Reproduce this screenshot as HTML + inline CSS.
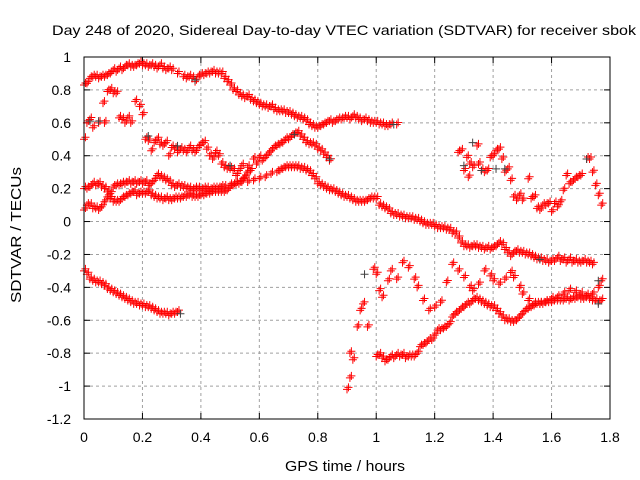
<!DOCTYPE html>
<html><head><meta charset="utf-8"><style>
body{margin:0;background:#fff}
svg{display:block;font-family:"Liberation Sans",sans-serif}
</style></head><body>
<svg id="c" width="640" height="480">
<text x="52" y="35" font-size="14" textLength="584" lengthAdjust="spacingAndGlyphs">Day 248 of 2020, Sidereal Day-to-day VTEC variation (SDTVAR) for receiver sbok</text>
<text x="285" y="471" font-size="15" textLength="120" lengthAdjust="spacingAndGlyphs">GPS time / hours</text>
<text transform="translate(21,303) rotate(-90)" font-size="15" textLength="136" lengthAdjust="spacingAndGlyphs">SDTVAR / TECUs</text>
<g id="grid"></g><g id="marks"></g>
<rect x="84" y="57" width="526" height="362" fill="none" stroke="#000"/>
</svg>
<script>
const xTicks=[0,0.2,0.4,0.6,0.8,1,1.2,1.4,1.6,1.8];
const xTickLabels=["0","0.2","0.4","0.6","0.8","1","1.2","1.4","1.6","1.8"];
const yTicks=[1,0.8,0.6,0.4,0.2,0,-0.2,-0.4,-0.6,-0.8,-1,-1.2];
const yTickLabels=["1","0.8","0.6","0.4","0.2","0","-0.2","-0.4","-0.6","-0.8","-1","-1.2"];
const aX=[0,0.01,0.02,0.03,0.04,0.05,0.06,0.07,0.08,0.09,0.1,0.11,0.12,0.13,0.14,0.15,0.16,0.17,0.18,0.19,0.2,0.21,0.22,0.23,0.24,0.25,0.26,0.27,0.28,0.29,0.3,0.32,0.34,0.35,0.36,0.37,0.38,0.39,0.4,0.41,0.42,0.43,0.44,0.45,0.46,0.47,0.48,0.49,0.5,0.51,0.52,0.53,0.54,0.55,0.56,0.57,0.58,0.59,0.6,0.61,0.62,0.63,0.64,0.65,0.66,0.67,0.68,0.69,0.7,0.71,0.72,0.73,0.74,0.75,0.76,0.77,0.78,0.79,0.8,0.81,0.82,0.83,0.84,0.85,0.86,0.87,0.88,0.89,0.9,0.91,0.92,0.93,0.94,0.95,0.96,0.97,0.98,0.99,1,1.01,1.02,1.03,1.04,1.05,1.07];
const aY=[0.83,0.84,0.87,0.88,0.88,0.87,0.88,0.88,0.89,0.9,0.92,0.91,0.93,0.92,0.94,0.95,0.94,0.94,0.95,0.96,0.95,0.95,0.94,0.95,0.94,0.93,0.95,0.93,0.92,0.93,0.92,0.9,0.88,0.87,0.88,0.87,0.85,0.88,0.89,0.89,0.9,0.9,0.91,0.9,0.9,0.9,0.87,0.85,0.83,0.8,0.79,0.77,0.76,0.75,0.76,0.74,0.73,0.72,0.71,0.7,0.7,0.69,0.7,0.68,0.67,0.67,0.67,0.66,0.66,0.65,0.64,0.63,0.63,0.62,0.61,0.59,0.58,0.57,0.57,0.58,0.59,0.6,0.61,0.6,0.61,0.62,0.62,0.63,0.63,0.62,0.64,0.63,0.62,0.61,0.62,0.61,0.6,0.6,0.6,0.59,0.59,0.58,0.58,0.59,0.59];
const bX=[0,0.01,0.02,0.03,0.05,0.065,0.07,0.08,0.09,0.1,0.11,0.12,0.13,0.14,0.15,0.16,0.175,0.19,0.2,0.21,0.22,0.23,0.24,0.25,0.26,0.27,0.28,0.29,0.3,0.31,0.32,0.33,0.34,0.35,0.36,0.37,0.38,0.39,0.4,0.41,0.42,0.43,0.44,0.45,0.46,0.47,0.48,0.49,0.5,0.51,0.52,0.53,0.54,0.55,0.56,0.57,0.58,0.59,0.6,0.61,0.62,0.63,0.64,0.65,0.66,0.67,0.68,0.69,0.7,0.71,0.72,0.73,0.74,0.75,0.76,0.77,0.78,0.79,0.8,0.81,0.82,0.83,0.84];
const bY=[0.5,0.6,0.62,0.57,0.6,0.72,0.6,0.79,0.8,0.78,0.78,0.63,0.62,0.6,0.63,0.6,0.73,0.7,0.65,0.5,0.49,0.43,0.48,0.5,0.47,0.46,0.48,0.4,0.45,0.44,0.42,0.44,0.43,0.42,0.45,0.43,0.42,0.45,0.47,0.48,0.44,0.4,0.38,0.42,0.4,0.35,0.33,0.32,0.32,0.31,0.28,0.31,0.34,0.27,0.33,0.31,0.38,0.35,0.39,0.37,0.39,0.41,0.43,0.45,0.46,0.47,0.48,0.5,0.5,0.52,0.53,0.54,0.52,0.5,0.48,0.47,0.47,0.46,0.44,0.43,0.41,0.39,0.37];
const cX=[0,0.01,0.02,0.03,0.04,0.05,0.06,0.07,0.08,0.09,0.1,0.11,0.12,0.13,0.14,0.15,0.16,0.17,0.18,0.19,0.2,0.21,0.22,0.23,0.24,0.25,0.26,0.27,0.28,0.29,0.3,0.31,0.32,0.33,0.34,0.35,0.36,0.37,0.38,0.39,0.4,0.41,0.42,0.43,0.44,0.45,0.46,0.47,0.48,0.5,0.52,0.54,0.56,0.58,0.6,0.62,0.64,0.66,0.67,0.68,0.69,0.7,0.71,0.72,0.73,0.74,0.75,0.76,0.77,0.78,0.79,0.8,0.81,0.82,0.83,0.84,0.85,0.86,0.87,0.88,0.89,0.9,0.91,0.92,0.93,0.94,0.95,0.96,0.97,0.98,0.99,1,1.01,1.02,1.03,1.04,1.05,1.06,1.07,1.08,1.09,1.1,1.11,1.12,1.13,1.14,1.15,1.16,1.17,1.18,1.19,1.2,1.21,1.22,1.23,1.24,1.25,1.26,1.27,1.28,1.29,1.3,1.31,1.32,1.33,1.34,1.35,1.36,1.37,1.38,1.39,1.4,1.41,1.42,1.43,1.44,1.45,1.46,1.47,1.48,1.49,1.5,1.51,1.52,1.53,1.54,1.55,1.56,1.57,1.58,1.59,1.6,1.61,1.62,1.63,1.64,1.65,1.66,1.67,1.68,1.69,1.7,1.71,1.72,1.73,1.74,1.75];
const cY=[0.2,0.2,0.21,0.23,0.22,0.23,0.21,0.2,0.18,0.17,0.21,0.22,0.22,0.23,0.23,0.24,0.23,0.24,0.23,0.24,0.23,0.24,0.22,0.23,0.25,0.28,0.27,0.26,0.25,0.24,0.22,0.21,0.22,0.21,0.21,0.2,0.2,0.19,0.2,0.2,0.19,0.2,0.2,0.19,0.2,0.2,0.2,0.21,0.21,0.22,0.23,0.24,0.24,0.25,0.26,0.27,0.29,0.3,0.31,0.32,0.33,0.33,0.33,0.33,0.33,0.32,0.32,0.31,0.3,0.28,0.26,0.23,0.22,0.21,0.2,0.19,0.19,0.18,0.17,0.16,0.15,0.15,0.14,0.13,0.12,0.12,0.12,0.12,0.13,0.14,0.14,0.14,0.1,0.09,0.08,0.07,0.05,0.04,0.04,0.03,0.03,0.02,0.02,0.02,0.01,0.01,0.0,-0.01,-0.02,-0.02,-0.02,-0.03,-0.04,-0.04,-0.04,-0.05,-0.05,-0.07,-0.07,-0.1,-0.13,-0.15,-0.15,-0.16,-0.15,-0.15,-0.16,-0.16,-0.17,-0.16,-0.17,-0.16,-0.15,-0.13,-0.14,-0.17,-0.19,-0.21,-0.19,-0.18,-0.19,-0.19,-0.2,-0.2,-0.21,-0.22,-0.23,-0.23,-0.24,-0.24,-0.25,-0.24,-0.24,-0.22,-0.24,-0.23,-0.25,-0.23,-0.25,-0.24,-0.25,-0.25,-0.24,-0.25,-0.25,-0.26];
const dX=[0,0.01,0.02,0.03,0.04,0.05,0.06,0.07,0.08,0.09,0.1,0.11,0.12,0.13,0.14,0.15,0.16,0.17,0.18,0.19,0.2,0.21,0.22,0.23,0.24,0.25,0.26,0.27,0.28,0.29,0.3,0.31,0.32,0.33,0.34,0.35,0.36,0.37,0.38,0.39,0.4,0.41,0.42,0.43,0.44,0.45,0.46,0.47,0.48,0.49,0.5,0.51,0.52,0.53,0.54,0.55,0.56,0.57];
const dY=[0.07,0.1,0.1,0.08,0.08,0.07,0.09,0.12,0.15,0.14,0.12,0.12,0.12,0.14,0.15,0.16,0.17,0.18,0.16,0.17,0.17,0.17,0.18,0.16,0.15,0.14,0.14,0.13,0.14,0.13,0.13,0.14,0.14,0.14,0.15,0.15,0.16,0.15,0.15,0.15,0.16,0.16,0.17,0.17,0.18,0.18,0.18,0.18,0.18,0.19,0.21,0.22,0.23,0.23,0.25,0.27,0.3,0.31];
const eX=[0,0.01,0.02,0.03,0.04,0.05,0.06,0.07,0.08,0.09,0.1,0.11,0.12,0.13,0.14,0.15,0.16,0.17,0.18,0.19,0.2,0.21,0.22,0.23,0.24,0.25,0.26,0.27,0.28,0.29,0.3,0.31,0.32];
const eY=[-0.3,-0.32,-0.35,-0.36,-0.37,-0.37,-0.38,-0.39,-0.41,-0.42,-0.43,-0.44,-0.45,-0.46,-0.47,-0.48,-0.49,-0.5,-0.5,-0.51,-0.51,-0.52,-0.52,-0.53,-0.54,-0.55,-0.56,-0.56,-0.56,-0.57,-0.56,-0.56,-0.55];
const fX=[0.9,0.91,0.91,0.92,0.935,0.945,0.955,0.97,0.99,1.0,1.01,1.02,1.04,1.05,1.07,1.09,1.11,1.13,1.14,1.16,1.18,1.2,1.22,1.24,1.26,1.28,1.3,1.32,1.33,1.35,1.37,1.39,1.4,1.42,1.44,1.46,1.47,1.49,1.5,1.52,1.54,1.56,1.58,1.6,1.62,1.64,1.66,1.68,1.7,1.72,1.74,1.76,1.77];
const fY=[-1.02,-0.95,-0.8,-0.84,-0.64,-0.54,-0.5,-0.64,-0.29,-0.32,-0.42,-0.46,-0.36,-0.3,-0.35,-0.25,-0.28,-0.35,-0.4,-0.48,-0.54,-0.52,-0.49,-0.37,-0.26,-0.3,-0.34,-0.4,-0.42,-0.38,-0.3,-0.33,-0.36,-0.38,-0.35,-0.31,-0.34,-0.4,-0.44,-0.48,-0.5,-0.5,-0.49,-0.47,-0.46,-0.44,-0.42,-0.43,-0.44,-0.45,-0.44,-0.4,-0.36];
const gX=[1.0,1.01,1.02,1.03,1.04,1.05,1.06,1.07,1.08,1.09,1.1,1.11,1.12,1.13,1.14,1.15,1.16,1.17,1.18,1.19,1.2,1.21,1.22,1.23,1.24,1.25,1.26,1.27,1.28,1.29,1.3,1.31,1.32,1.33,1.34,1.35,1.36,1.37,1.38,1.39,1.4,1.41,1.42,1.43,1.44,1.45,1.46,1.47,1.48,1.49,1.5,1.51,1.52,1.53,1.54,1.55,1.56,1.57,1.58,1.59,1.6,1.61,1.62,1.63,1.64,1.65,1.66,1.67,1.68,1.69,1.7,1.71,1.72,1.73,1.74,1.75,1.76,1.77];
const gY=[-0.82,-0.81,-0.83,-0.85,-0.84,-0.82,-0.83,-0.81,-0.82,-0.81,-0.83,-0.82,-0.82,-0.82,-0.8,-0.76,-0.75,-0.74,-0.72,-0.72,-0.69,-0.66,-0.66,-0.65,-0.64,-0.62,-0.58,-0.56,-0.55,-0.53,-0.52,-0.5,-0.5,-0.48,-0.47,-0.48,-0.49,-0.5,-0.51,-0.52,-0.52,-0.54,-0.56,-0.58,-0.6,-0.6,-0.61,-0.61,-0.6,-0.58,-0.56,-0.54,-0.53,-0.52,-0.51,-0.5,-0.5,-0.5,-0.49,-0.49,-0.49,-0.48,-0.48,-0.48,-0.48,-0.47,-0.48,-0.47,-0.47,-0.46,-0.47,-0.47,-0.46,-0.47,-0.48,-0.48,-0.49,-0.48];
const hX=[1.28,1.29,1.3,1.31,1.315,1.32,1.33,1.345,1.35,1.36,1.37,1.38,1.39,1.4,1.41,1.42,1.43,1.44,1.45,1.46,1.47,1.48,1.49,1.5,1.52,1.53,1.54,1.55,1.56,1.57,1.58,1.59,1.6,1.61,1.62,1.63,1.64,1.65,1.66,1.67,1.68,1.69,1.7,1.72,1.73,1.74,1.75,1.76,1.77];
const hY=[0.42,0.43,0.31,0.39,0.27,0.35,0.33,0.46,0.35,0.31,0.3,0.31,0.39,0.4,0.43,0.44,0.38,0.3,0.32,0.25,0.15,0.13,0.16,0.13,0.26,0.14,0.15,0.08,0.07,0.1,0.1,0.11,0.06,0.11,0.09,0.12,0.19,0.28,0.23,0.24,0.26,0.27,0.28,0.38,0.38,0.3,0.22,0.16,0.1];
const grayX=[0.02,0.05,0.22,0.32,0.38,0.5,0.72,0.84,0.96,1.06,1.3,1.33,1.36,1.41,1.44,1.56,1.72,1.76,0.33,1.76];
const grayY=[0.61,0.61,0.52,0.46,0.86,0.34,0.53,0.38,-0.32,0.59,0.34,0.48,0.31,0.32,0.32,-0.23,0.38,-0.5,-0.56,-0.36];

const X0=84,X1=610,Y0=57,Y1=419;
const sx=v=>X0+(v-0)/(1.8-0)*(X1-X0);
const sy=v=>Y0+(1-v)/(1-(-1.2))*(Y1-Y0);
const NS="http://www.w3.org/2000/svg";
const grid=document.getElementById('grid'),marks=document.getElementById('marks');
function mk(t,a,p){const e=document.createElementNS(NS,t);for(const k in a)e.setAttribute(k,a[k]);p.appendChild(e);return e;}
xTicks.forEach((v,i)=>{const x=sx(v);
 if(i>0&&i<xTicks.length-1){const g=mk('line',{x1:x,x2:x,y1:Y0,y2:Y1,stroke:'#a0a0a0','stroke-dasharray':'3,3'},grid);
 
 }
 mk('line',{x1:x,x2:x,y1:Y1,y2:Y1-6,stroke:'#000'},grid);
 mk('line',{x1:x,x2:x,y1:Y0,y2:Y0+6,stroke:'#000'},grid);
 const t=mk('text',{x:x,y:442,'font-size':14,'text-anchor':'middle'},grid);t.textContent=xTickLabels[i];
 
 });
yTicks.forEach((v,i)=>{const y=sy(v);
 if(i>0&&i<yTicks.length-1){const g=mk('line',{x1:X0,x2:X1,y1:y,y2:y,stroke:'#a0a0a0','stroke-dasharray':'3,3'},grid);
 
 }
 mk('line',{x1:X0,x2:X0+6,y1:y,y2:y,stroke:'#000'},grid);
 mk('line',{x1:X1,x2:X1-6,y1:y,y2:y,stroke:'#000'},grid);
 const t=mk('text',{x:71,y:y+5,'font-size':14,'text-anchor':'end'},grid);t.textContent=yTickLabels[i];
 
 });
function plus(x,y,col,name){const g=mk('path',{d:`M${sx(x)-4},${sy(y)}h8M${sx(x)},${sy(y)-4}v8`,stroke:col,'stroke-width':1,fill:'none'},marks);
 
 }
[[aX,aY],[bX,bY],[cX,cY],[dX,dY],[eX,eY],[fX,fY],[gX,gY],[hX,hY]].forEach(([xs,ys],s)=>{
 xs.forEach((x,i)=>{plus(x,ys[i],'#ff0000','sdtvar-point');plus(x+0.005,ys[i]+0.012,'#ff0000','sdtvar-point');});});
grayX.forEach((x,i)=>plus(x,grayY[i],'#404040','sdtvar-point-gray'));
</script>
</body></html>
